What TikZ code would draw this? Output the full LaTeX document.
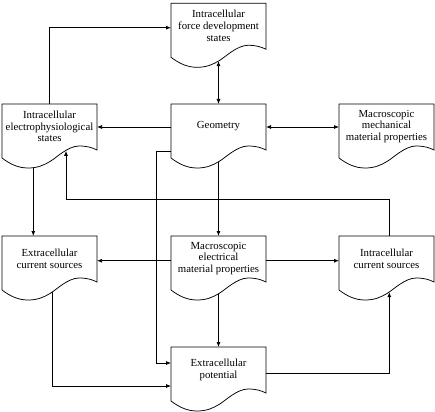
\documentclass[tikz,border=0pt]{standalone}
\usepackage{fontspec}
\setmainfont{Liberation Serif}
\usetikzlibrary{arrows.meta,calc}
\tikzset{
  docline/.style={draw=black,fill=white,line width=0.75pt,line join=miter},
  docanchor/.style={draw=none,rectangle,minimum width=95pt,minimum height=54pt,inner sep=0pt,outer sep=0pt},
  doctext/.style={align=center,inner sep=0pt,font=\fontsize{10.8}{11.8}\selectfont},
  conn/.style={line width=0.75pt,-{Latex[length=5pt,width=4pt]}},
  conntwo/.style={line width=0.75pt,{Latex[length=5pt,width=4pt]}-{Latex[length=5pt,width=4pt]}}
}
\newcommand{\docshape}[4]{%
  \begin{scope}[shift={(#2,#3)}]
    \draw[docline] (0,0) -- (95,0) -- (95,46)
      .. controls (90,43.5) and (85,42) .. (77,42)
      .. controls (66,42) and (54,54) .. (48,57.5)
      .. controls (42,61) and (36,64) .. (26,64)
      .. controls (16,64) and (8,60) .. (0,54) -- cycle;
    \node[docanchor] (#1) at (47.5,27) {};
    \node[doctext] (#1-t) at (47.5,22.5) {#4};
    \coordinate (#1-bc) at (47.5,57.8);
    \coordinate (#1-b31) at (31.3,63.8);
    \coordinate (#1-b50) at (50.3,56.2);
    \coordinate (#1-b64) at (64,46.8);
  \end{scope}%
}
\begin{document}
\begin{tikzpicture}[x=1pt,y=-1pt]
\useasboundingbox (0,0) rectangle (435,411);
% boxes
\docshape{force}{171}{3.3}{Intracellular\\force development\\states}
\docshape{ephys}{2}{104}{Intracellular\\electrophysiological\\states}
\docshape{geo}{171}{104}{Geometry}
\docshape{mech}{339}{104}{Macroscopic\\mechanical\\material properties}
\docshape{ecs}{2}{236}{Extracellular\\current sources}
\docshape{elec}{171}{236}{Macroscopic\\electrical\\material properties}
\docshape{ics}{339}{236}{Intracellular\\current sources}
\docshape{pot}{171}{347}{Extracellular\\potential}
% connectors
\draw[conn] (ephys.north) |- ($(force.north west)+(0,24.4)$);
\draw[conntwo] (force-bc) -- (geo.north);
\draw[conn] ($(geo.north west)+(0,23)$) -- ($(ephys.north east)+(0,23)$);
\draw[conntwo] ($(geo.north east)+(0,23)$) -- ($(mech.north west)+(0,23)$);
\draw[conn] ($(geo.north west)+(0,47)$) -- ++(-14.3,0) |- ($(pot.north west)+(0,16)$);
\draw[conn] (geo-bc) -- (elec.north);
\draw[conn] (ephys-b31) -- (ephys-b31 |- ecs.north);
\coordinate (icsup) at ($(ics.north west)+(50.3,0)$);
\draw[conn] (icsup) -- ++(0,-36.7) -| (ephys-b64);
\draw[conn] ($(elec.north west)+(0,24.7)$) -- ($(ecs.north east)+(0,24.7)$);
\draw[conn] ($(elec.north east)+(0,24.7)$) -- ($(ics.north west)+(0,24.7)$);
\draw[conn] (elec-bc) -- (pot.north);
\draw[conn] (ecs-b50) |- ($(pot.north west)+(0,39)$);
\draw[conn] ($(pot.north east)+(0,26)$) -| (ics-b50);
\end{tikzpicture}
\end{document}
